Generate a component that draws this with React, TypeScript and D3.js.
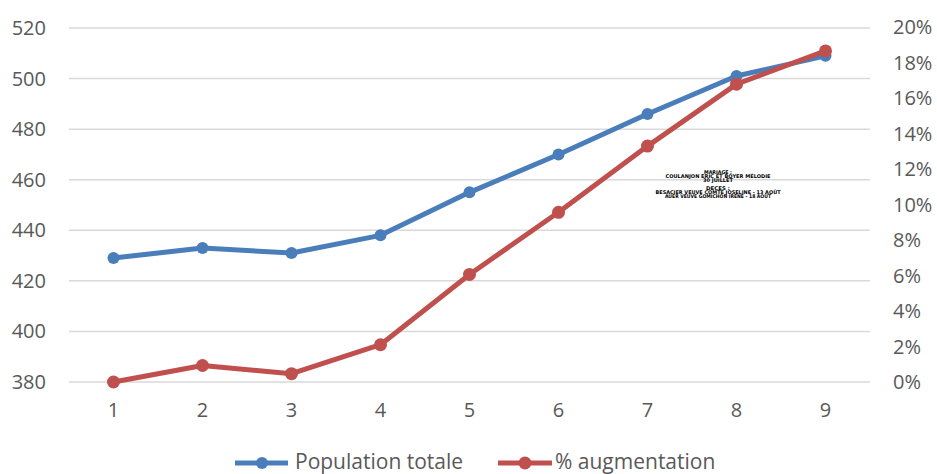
import React from "react";
import * as d3 from "d3";

const categories = ["1", "2", "3", "4", "5", "6", "7", "8", "9"];
const population = [429, 433, 431, 438, 455, 470, 486, 501, 509];
const augmentation = [0, 0.0093, 0.0047, 0.021, 0.0606, 0.0956, 0.1329, 0.1678, 0.1865];
const leftTicks = [380, 400, 420, 440, 460, 480, 500, 520];
const rightTicks = [0, 0.02, 0.04, 0.06, 0.08, 0.1, 0.12, 0.14, 0.16, 0.18, 0.2];
const annotationLines = [
  "MARIAGE :",
  "COULANJON ERIC ET BOYER MÉLODIE",
  "30 JUILLET",
  "",
  "DECES :",
  "BESACIER VEUVE COMTE JOSELINE - 13 AOÛT",
  "AUER VEUVE GOMICHON IRENE - 18 AOÛT",
];
const seriesNames = ["Population totale", "% augmentation"];

const W = 937;
const H = 474;
const BLUE = "#4a7ebb";
const RED = "#c0504d";
const TXT = "#595959";
const FONT = "'Open Sans', sans-serif";

export default function App() {
  const x = d3.scaleBand<string>().domain(categories).range([69, 870]).padding(0);
  const cx = (c: string) => (x(c) as number) + x.bandwidth() / 2;
  const yL = d3.scaleLinear().domain([380, 520]).range([382, 28]);
  const yR = d3.scaleLinear().domain([0, 0.2]).range([382, 27]);

  const lineL = d3
    .line<number>()
    .x((_, i) => cx(categories[i]))
    .y((d) => yL(d));
  const lineR = d3
    .line<number>()
    .x((_, i) => cx(categories[i]))
    .y((d) => yR(d));

  const fmtPct = d3.format(".0%");
  const annWidths = [28, 105, 30, 0, 24, 125, 106];
  const legY = 463;

  return (
    <svg
      width={W}
      height={H}
      style={{ position: "absolute", left: 0, top: 0, background: "#fff" }}
      fontFamily={FONT}
    >
      {leftTicks.map((t) => (
        <line key={"g" + t} x1={69} x2={870} y1={yL(t)} y2={yL(t)} stroke="#d9d9d9" strokeWidth={1.5} />
      ))}
      {leftTicks.map((t) => (
        <text key={"l" + t} x={46} y={yL(t)} dy="0.35em" textAnchor="end" fontSize={20} fill={TXT}>
          {t}
        </text>
      ))}
      {rightTicks.map((t) => (
        <text key={"r" + t} x={893} y={yR(t)} dy="0.35em" textAnchor="start" fontSize={20} fill={TXT}>
          {fmtPct(t)}
        </text>
      ))}
      {categories.map((c) => (
        <text key={"x" + c} x={cx(c)} y={410} dy="0.35em" textAnchor="middle" fontSize={20} fill={TXT}>
          {c}
        </text>
      ))}

      <path d={lineL(population) as string} fill="none" stroke={BLUE} strokeWidth={5} strokeLinejoin="round" />
      {population.map((v, i) => (
        <circle key={"pb" + i} cx={cx(categories[i])} cy={yL(v)} r={6} fill={BLUE} />
      ))}
      <path d={lineR(augmentation) as string} fill="none" stroke={RED} strokeWidth={5} strokeLinejoin="round" />
      {augmentation.map((v, i) => (
        <circle key={"pr" + i} cx={cx(categories[i])} cy={yR(v)} r={6.5} fill={RED} />
      ))}

      {annotationLines.map((s, i) =>
        s ? (
          <text
            key={"a" + i}
            x={718}
            y={172 + i * 4.1}
            dy="0.35em"
            textAnchor="middle"
            fontSize={5}
            fontWeight={900}
            fontFamily="'DejaVu Sans', sans-serif"
            fill="#000"
            textLength={annWidths[i]}
            lengthAdjust="spacingAndGlyphs"
          >
            {s}
          </text>
        ) : null
      )}

      <g>
        <line x1={235} x2={288} y1={legY} y2={legY} stroke={BLUE} strokeWidth={5} />
        <circle cx={262} cy={legY} r={6} fill={BLUE} />
        <text x={295} y={legY} dy="0.3em" fontSize={21} fill={TXT}>
          {seriesNames[0]}
        </text>
        <line x1={498} x2={552} y1={legY} y2={legY} stroke={RED} strokeWidth={5} />
        <circle cx={525} cy={legY} r={6.5} fill={RED} />
        <text x={555} y={legY} dy="0.3em" fontSize={21} fill={TXT}>
          {seriesNames[1]}
        </text>
      </g>
    </svg>
  );
}
